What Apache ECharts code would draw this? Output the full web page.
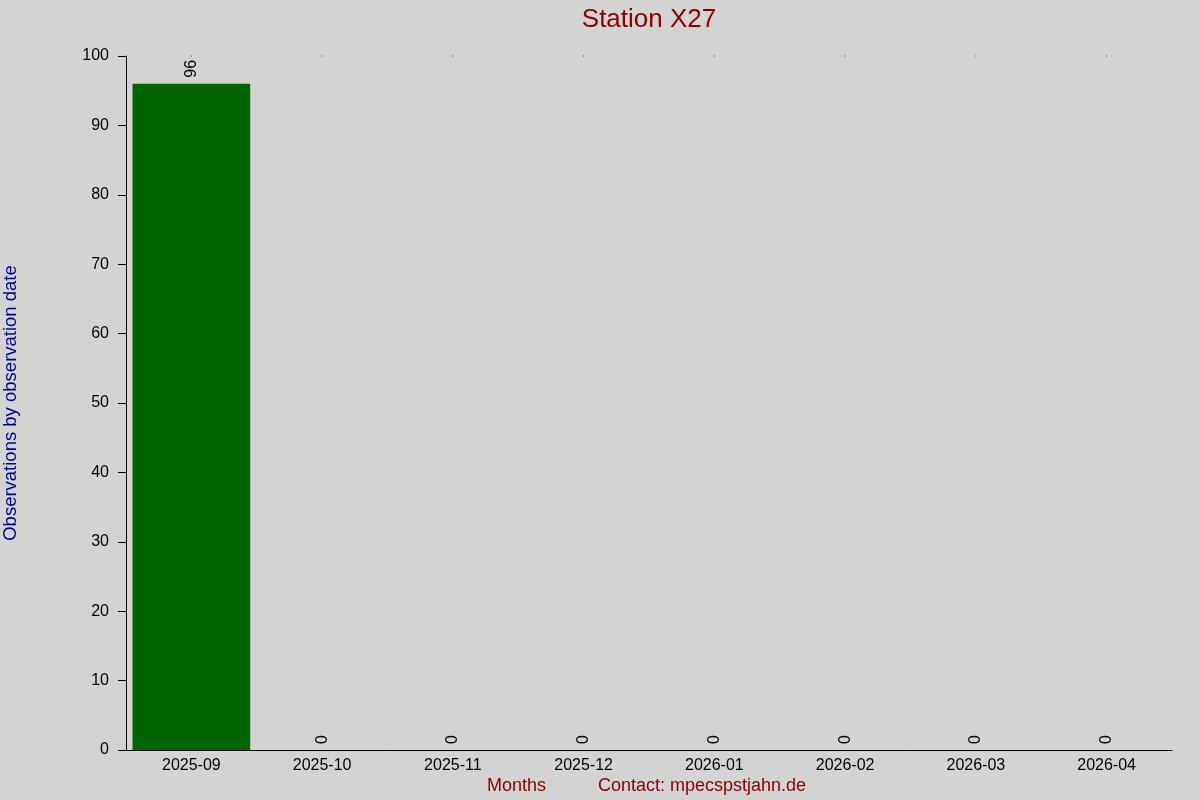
<!DOCTYPE html>
<html>
<head>
<meta charset="utf-8">
<title>Station X27</title>
<script src="https://cdn.jsdelivr.net/npm/echarts@6/dist/echarts.min.js"></script>
<style>
  html, body { margin: 0; padding: 0; background: #d3d3d3; }
</style>
</head>
<body>
<div id="main" style="width:1200px;height:800px;"></div>
<script type="text/javascript">
// monthly observation counts
var months = ['2025-09', '2025-10', '2025-11', '2025-12', '2026-01', '2026-02', '2026-03', '2026-04'];
var counts = [96, 0, 0, 0, 0, 0, 0, 0];
var topMarks = [100, 100, 100, 100, 100, 100, 100, 100];

var myChart = echarts.init(document.getElementById('main'));
var font = 'Liberation Sans, Arial, sans-serif';

var option = {
    backgroundColor: '#d3d3d3',
    animation: false,
    textStyle: { fontFamily: font },
    title: {
        text: 'Station X27',
        left: 644,
        textAlign: 'center',
        top: 2,
        textStyle: { color: '#8b0000', fontSize: 26, fontWeight: 'normal', fontFamily: font }
    },
    graphic: [
        {
            type: 'text', left: 487, top: 777,
            style: { text: 'Months', fill: '#8b0000', font: '18px ' + font }
        },
        {
            type: 'text', left: 598, top: 777,
            style: { text: 'Contact: mpecspstjahn.de', fill: '#8b0000', font: '18px ' + font }
        }
    ],
    grid: { left: 126, right: 28, top: 56, bottom: 50, outerBoundsMode: 'none', containLabel: false },
    xAxis: {
        type: 'category',
        data: months,
        axisLine: { lineStyle: { color: '#000', width: 1 } },
        axisTick: { show: false },
        axisLabel: { color: '#000', fontSize: 16, margin: 8 }
    },
    yAxis: {
        type: 'value',
        min: 0,
        max: 100,
        interval: 10,
        name: 'Observations by observation date',
        nameLocation: 'middle',
        nameGap: 106,
        nameTextStyle: { color: '#00008b', fontSize: 18.5 },
        splitLine: { show: false },
        axisLine: { show: true, lineStyle: { color: '#000', width: 1 } },
        axisTick: { show: true, length: 8, lineStyle: { color: '#000' } },
        axisLabel: { color: '#000', fontSize: 16, margin: 17 }
    },
    series: [
        {
            type: 'bar',
            data: counts,
            barCategoryGap: '10%',
            itemStyle: { color: '#006400' },
            label: {
                show: true,
                position: 'top',
                rotate: 90,
                align: 'left',
                verticalAlign: 'middle',
                distance: 6,
                color: '#000',
                fontSize: 16
            }
        },
        {
            type: 'scatter',
            data: topMarks,
            symbol: 'rect',
            symbolSize: 1,
            itemStyle: { color: '#000' },
            silent: true
        }
    ]
};

myChart.setOption(option);
</script>
</body>
</html>
